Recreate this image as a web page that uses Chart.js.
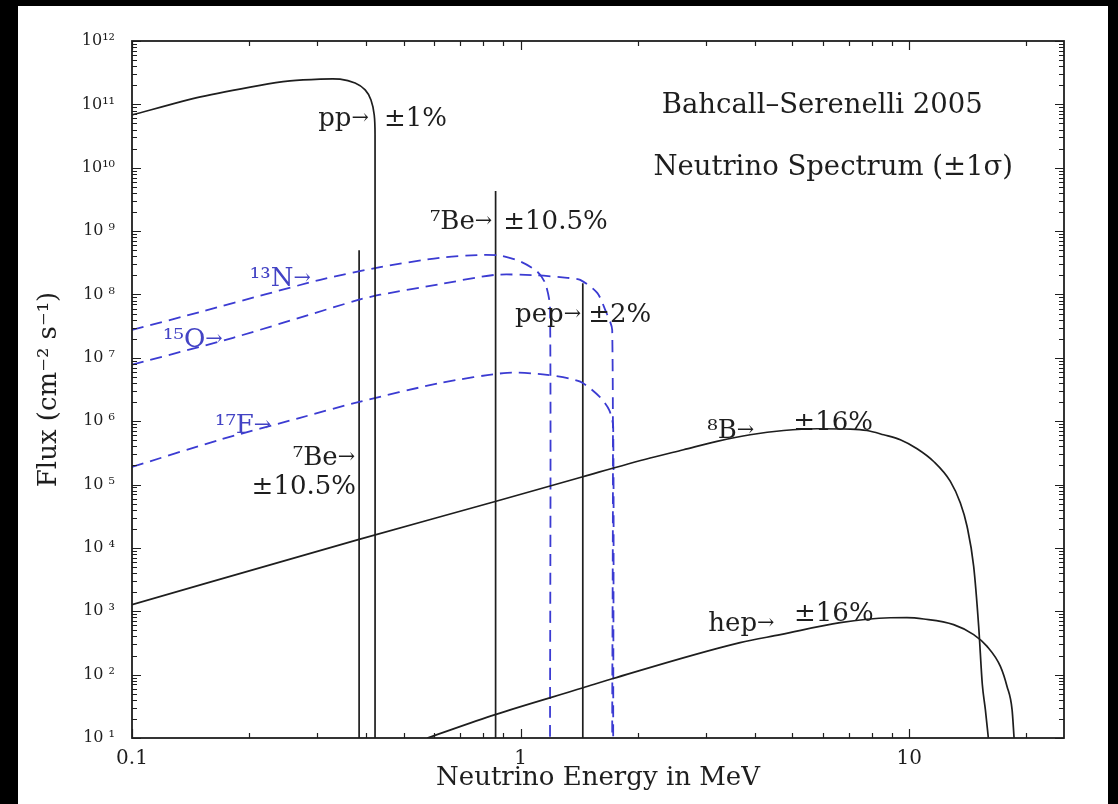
<!DOCTYPE html>
<html>
<head>
<meta charset="utf-8">
<title>Solar neutrino spectrum</title>
<script src="https://cdn.jsdelivr.net/npm/chart.js@4.4.1/dist/chart.umd.min.js"></script>
<style>
  html, body { margin: 0; padding: 0; background: #000; }
  #panel { position: absolute; left: 18px; top: 6px; width: 1090px; height: 798px; background: #fff; }
  canvas { display: block; }
</style>
</head>
<body>
<div id="panel"><canvas id="fluxChart" width="1090" height="798"></canvas></div>
<script>
// Solar neutrino flux spectrum (BS05 solar model), log-log

const INK = '#1e1e1e';
const BLUE = '#3b3bd2';
const BLUE_TEXT = '#4343c4';
const SERIF = "'DejaVu Serif', 'Liberation Serif', serif";
const NOTE_SIZE = 26;

// ---- axes ----
const energyMin = 0.1;
const energyMax = 25;
const energyTicks = [0.1, 1, 10];
const energyTickLabels = ['0.1', '1', '10'];

const fluxMin = 1e1;
const fluxMax = 1e12;
const fluxExponents = [1, 2, 3, 4, 5, 6, 7, 8, 9, 10, 11, 12];

// ---- continuum spectra: energy in MeV, flux in cm^-2 s^-1 ----
const ppEnergy = [0.1, 0.15, 0.2135, 0.255, 0.305, 0.343, 0.375, 0.398, 0.412, 0.42, 0.422, 0.422];
const ppFlux = [6.8e10, 1.31e11, 2.0e11, 2.34e11, 2.5e11, 2.5e11, 2.17e11, 1.69e11, 1.17e11, 6.8e10, 3.3e10, 10];

const b8Energy = [0.1, 0.382, 0.86, 1.445, 2.154, 2.624, 3.199, 3.896, 4.749, 5.787, 7.047, 7.78, 8.59, 9.48, 10.47, 11.55, 12.75, 13.53, 14.08, 14.64, 15.08, 15.41, 15.69, 15.97];
const b8Flux = [1.27e3, 1.35e4, 5.4e4, 1.33e5, 2.62e5, 3.54e5, 4.79e5, 6.1e5, 7.13e5, 7.59e5, 7.5e5, 7.13e5, 6.1e5, 5.09e5, 3.67e5, 2.31e5, 1.12e5, 5.1e4, 2.18e4, 5.1e3, 578, 70, 28, 10];

const hepEnergy = [0.575, 0.86, 1.448, 1.72, 3.67, 4.66, 6.64, 8.94, 9.86, 10.89, 13.0, 14.64, 15.85, 17.15, 17.84, 18.38, 18.6];
const hepFlux = [10, 23.4, 62, 86, 320, 428, 661, 790, 795, 755, 615, 428, 279, 135, 65, 28, 10];

// CNO cycle (dashed)
const n13Energy = [0.1, 0.15, 0.2226, 0.305, 0.435, 0.621, 0.787, 0.886, 1.0, 1.103, 1.157, 1.19, 1.19];
const n13Flux = [2.75e7, 5.3e7, 1.02e8, 1.7e8, 2.7e8, 3.8e8, 4.2e8, 4.1e8, 3.3e8, 2.3e8, 1.5e8, 6.3e7, 10];

const o15Energy = [0.1, 0.182, 0.382, 0.435, 0.62, 0.86, 1.1, 1.318, 1.423, 1.574, 1.65, 1.72, 1.72];
const o15Flux = [7.8e6, 2.07e7, 8.2e7, 9.9e7, 1.45e8, 2.04e8, 2.0e8, 1.83e8, 1.7e8, 1.06e8, 5.7e7, 2.75e7, 10];

const f17Energy = [0.1, 0.1685, 0.2706, 0.382, 0.621, 0.923, 1.17, 1.423, 1.6, 1.69, 1.73, 1.73];
const f17Flux = [1.9e5, 5.1e5, 1.13e6, 2.0e6, 4.0e6, 5.8e6, 5.4e6, 4.2e6, 2.4e6, 1.5e6, 8.2e5, 10];

// ---- line sources ----
const lineEnergy = [0.384, 0.862, 1.445];   // 7Be, 7Be, pep
const lineFlux = [5.0e8, 4.3e9, 1.5e8];

// ---- annotations, anchored in (energy, flux) ----
const notes = [
  { text: 'Bahcall\u2013Serenelli 2005', e: 5.97, f: 7.3e10, align: 'center', size: 27.5 },
  { text: 'Neutrino Spectrum (\u00b11\u03c3)', e: 6.37, f: 7.7e9, align: 'center', size: 27.5 },
  { text: 'pp\u2192', e: 0.407, f: 4.6e10, align: 'right' },
  { text: '\u00b11%', e: 0.445, f: 4.6e10, align: 'left' },
  { text: '\u2077Be\u2192', e: 0.845, f: 1.08e9, align: 'right' },
  { text: '\u00b110.5%', e: 0.902, f: 1.08e9, align: 'left' },
  { text: 'pep\u2192', e: 1.431, f: 3.7e7, align: 'right' },
  { text: '\u00b12%', e: 1.492, f: 3.7e7, align: 'left' },
  { text: '\u00b9\u00b3N\u2192', e: 0.201, f: 1.37e8, align: 'left', color: BLUE_TEXT },
  { text: '\u00b9\u2075O\u2192', e: 0.1202, f: 1.49e7, align: 'left', color: BLUE_TEXT },
  { text: '\u00b9\u2077F\u2192', e: 0.1635, f: 6.6e5, align: 'left', color: BLUE_TEXT },
  { text: '\u2077Be\u2192', e: 0.375, f: 2.05e5, align: 'right' },
  { text: '\u00b110.5%', e: 0.377, f: 7.2e4, align: 'right' },
  { text: '\u2078B\u2192', e: 3.02, f: 5.5e5, align: 'left' },
  { text: '\u00b116%', e: 5.03, f: 7.3e5, align: 'left' },
  { text: 'hep\u2192', e: 3.04, f: 4.8e2, align: 'left' },
  { text: '\u00b116%', e: 5.05, f: 6.9e2, align: 'left' }
];

const SUP = { 0: '\u2070', 1: '\u00b9', 2: '\u00b2', 3: '\u00b3', 4: '\u2074', 5: '\u2075', 6: '\u2076', 7: '\u2077', 8: '\u2078', 9: '\u2079' };
const fluxTickLabels = fluxExponents.map(p =>
  '10' + (p < 10 ? ' ' : '') + String(p).split('').map(d => SUP[d]).join(''));

function points(energy, flux) {
  return energy.map((e, i) => ({ x: e, y: flux[i] }));
}

// smooth: spectra that end on the axis without a vertical drop
function curve(energy, flux, opts = {}) {
  return {
    data: points(energy, flux),
    showLine: true,
    borderColor: opts.dashed ? BLUE : INK,
    borderWidth: opts.dashed ? 1.8 : 1.7,
    borderDash: opts.dashed ? [12, 7] : [],
    pointRadius: 0,
    tension: 0.25,
    cubicInterpolationMode: opts.smooth ? 'monotone' : 'default'
  };
}

const datasets = [
  curve(ppEnergy, ppFlux),
  curve(b8Energy, b8Flux, { smooth: true }),
  curve(hepEnergy, hepFlux, { smooth: true }),
  curve(n13Energy, n13Flux, { dashed: true }),
  curve(o15Energy, o15Flux, { dashed: true }),
  curve(f17Energy, f17Flux, { dashed: true }),
  ...lineEnergy.map((e, i) => curve([e, e], [lineFlux[i], fluxMin]))
];

// frame with inward major/minor ticks on all four sides
const frameTicks = {
  id: 'frameTicks',
  afterDatasetsDraw(chart) {
    const { ctx, chartArea: a, scales: { x, y } } = chart;
    ctx.save();
    ctx.strokeStyle = INK;
    ctx.lineWidth = 1.2;
    ctx.beginPath();
    for (const d of [0.1, 1, 10]) {
      for (let m = 1; m <= 9; m++) {
        const v = d * m;
        if (v < energyMin || v > energyMax) continue;
        const px = Math.round(x.getPixelForValue(v)) + 0.5;
        const len = m === 1 ? 9 : 5;
        ctx.moveTo(px, a.bottom); ctx.lineTo(px, a.bottom - len);
        ctx.moveTo(px, a.top); ctx.lineTo(px, a.top + len);
      }
    }
    for (let p = 1; p <= 12; p++) {
      for (let m = 1; m <= 9; m++) {
        const v = m * Math.pow(10, p);
        if (v > fluxMax) break;
        const py = Math.round(y.getPixelForValue(v)) + 0.5;
        const len = m === 1 ? 9 : 5;
        ctx.moveTo(a.left, py); ctx.lineTo(a.left + len, py);
        ctx.moveTo(a.right, py); ctx.lineTo(a.right - len, py);
      }
    }
    ctx.stroke();
    ctx.lineWidth = 1.8;
    ctx.strokeRect(a.left, a.top, a.right - a.left, a.bottom - a.top);
    ctx.restore();
  }
};

// text notes; arrows are set smaller and lifted to the middle of the letters
function drawNote(ctx, note, x, y) {
  const base = note.size || NOTE_SIZE;
  const runs = note.text.split(/(\u2192)/).filter(Boolean).map(t => {
    const arrow = t === '\u2192';
    const size = arrow ? base * 0.8 : base;
    ctx.font = size + 'px ' + SERIF;
    return { t, size, lift: arrow ? 2 : 0, w: ctx.measureText(t).width };
  });
  const total = runs.reduce((s, r) => s + r.w, 0);
  let cx = note.align === 'right' ? x - total : note.align === 'center' ? x - total / 2 : x;
  ctx.fillStyle = note.color || INK;
  runs.forEach(r => {
    ctx.font = r.size + 'px ' + SERIF;
    ctx.fillText(r.t, cx, y - r.lift);
    cx += r.w;
  });
}

const noteLayer = {
  id: 'noteLayer',
  afterDraw(chart) {
    const { ctx, scales: { x, y } } = chart;
    ctx.save();
    ctx.textAlign = 'left';
    ctx.textBaseline = 'alphabetic';
    notes.forEach(n => drawNote(ctx, n, x.getPixelForValue(n.e), y.getPixelForValue(n.f)));
    ctx.restore();
  }
};

new Chart(document.getElementById('fluxChart'), {
  type: 'scatter',
  data: { datasets },
  options: {
    responsive: false,
    animation: false,
    layout: { padding: { top: 35, right: 44, left: 0, bottom: 0 } },
    plugins: { legend: { display: false }, tooltip: { enabled: false } },
    scales: {
      x: {
        type: 'logarithmic',
        position: 'bottom',
        min: energyMin,
        max: energyMax,
        grid: { display: false },
        border: { display: false },
        afterBuildTicks: s => { s.ticks = energyTicks.map(v => ({ value: v })); },
        afterFit: s => { s.height = 66; },
        ticks: {
          autoSkip: false,
          maxRotation: 0,
          padding: 1,
          color: INK,
          font: { family: SERIF, size: 20 },
          callback: (v, i) => energyTickLabels[i]
        },
        title: {
          display: true,
          text: 'Neutrino Energy in MeV',
          color: INK,
          font: { family: SERIF, size: 26 },
          padding: { top: 0, bottom: 10 }
        }
      },
      y: {
        type: 'logarithmic',
        position: 'left',
        min: fluxMin,
        max: fluxMax,
        grid: { display: false },
        border: { display: false },
        afterBuildTicks: s => { s.ticks = fluxExponents.map(p => ({ value: Math.pow(10, p) })); },
        afterFit: s => { s.width = 114; },
        ticks: {
          autoSkip: false,
          padding: 9,
          color: INK,
          font: { family: SERIF, size: 16 },
          callback: (v, i) => fluxTickLabels[i]
        },
        title: {
          display: true,
          text: 'Flux (cm\u207b\u00b2 s\u207b\u00b9)',
          color: INK,
          font: { family: SERIF, size: 26 },
          padding: { top: 16, bottom: 0 }
        }
      }
    }
  },
  plugins: [frameTicks, noteLayer]
});
</script>
</body>
</html>
